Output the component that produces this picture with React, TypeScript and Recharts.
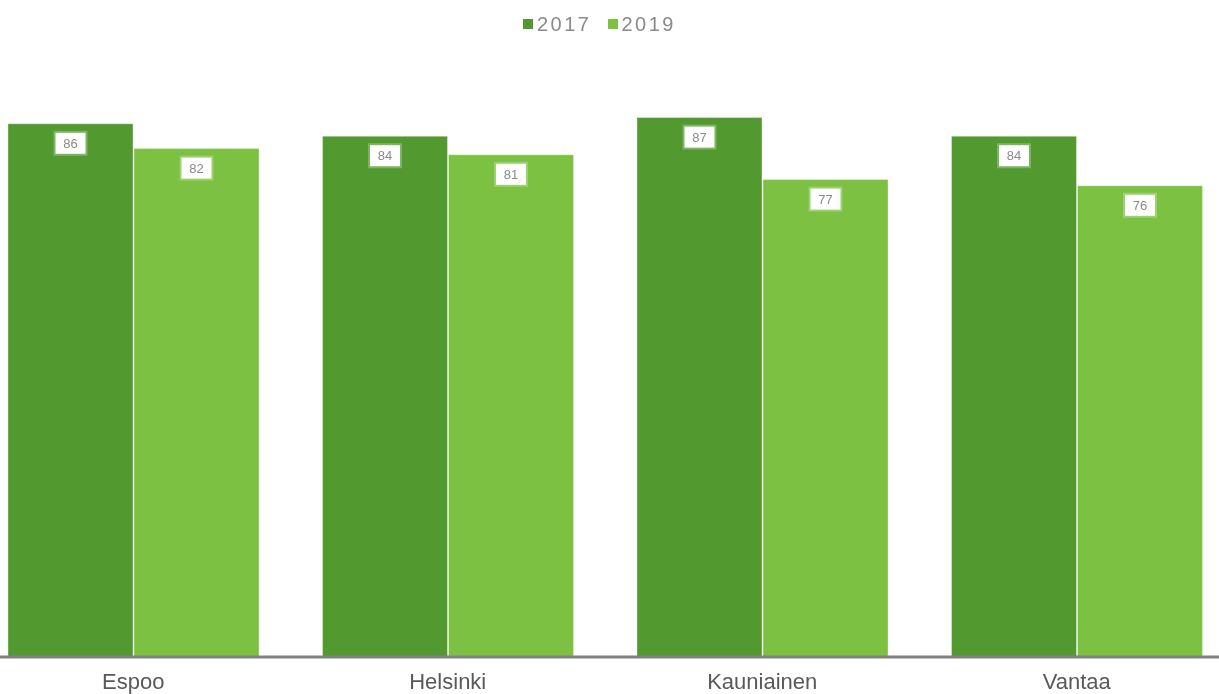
import React from "react";
import { BarChart, Bar, XAxis, YAxis, LabelList } from "recharts";

const categories = ["Espoo", "Helsinki", "Kauniainen", "Vantaa"];
const values2017 = [86, 84, 87, 84];
const values2019 = [82, 81, 77, 76];
const seriesNames = ["2017", "2019"];
const colors = ["#529A2F", "#7CC142"];

const data = categories.map((c, i) => ({
  name: c,
  [seriesNames[0]]: values2017[i],
  [seriesNames[1]]: values2019[i],
}));

const FONT = "Liberation Sans, Arial, sans-serif";

const ValueLabel = (props: any) => {
  const { x, y, width, value } = props;
  const cx = x + width / 2;
  const bw = 30;
  const bh = 21;
  const top = y + 9;
  return (
    <g>
      <rect x={cx - bw / 2 - 2} y={top - 2} width={bw + 4} height={bh + 4} fill="#ffffff" fillOpacity={0.25} />
      <rect x={cx - bw / 2} y={top} width={bw} height={bh} fill="#ffffff" />
      <text
        x={cx}
        y={top + bh / 2 + 1}
        textAnchor="middle"
        dominantBaseline="middle"
        fontSize={13}
        fontFamily={FONT}
        fill="#8a8a8a"
      >
        {value}
      </text>
    </g>
  );
};

export default function App() {
  return (
    <div style={{ position: "fixed", left: 0, top: 0, width: 1219, height: 694, overflow: "hidden" }}>
      <div
        style={{
          position: "absolute",
          left: 0,
          top: 13,
          width: 1219,
          display: "flex",
          justifyContent: "center",
          fontFamily: FONT,
          paddingRight: 20,
          boxSizing: "border-box",
        }}
      >
        {seriesNames.map((s, i) => (
          <div key={s} style={{ display: "flex", alignItems: "center", marginRight: i === 0 ? 16 : 0 }}>
            <span style={{ display: "inline-block", width: 10, height: 10, background: colors[i], marginRight: 4 }} />
            <span style={{ fontSize: 20, lineHeight: "22px", color: "#8a8a8a", letterSpacing: 2.5 }}>{s}</span>
          </div>
        ))}
      </div>
      <div style={{ position: "absolute", left: -24, top: 0 }}>
        <BarChart
          width={1258}
          height={700}
          data={data}
          margin={{ top: 37, right: 0, bottom: 0, left: 0 }}
          barGap={1}
          barCategoryGap={32}
        >
          <XAxis
            dataKey="name"
            axisLine={{ stroke: "#808080", strokeWidth: 3 }}
            tickLine={false}
            height={43}
            tick={{ fontSize: 22, fill: "#595959", fontFamily: FONT }}
            tickMargin={10}
            interval={0}
          />
          <YAxis hide domain={[0, 100]} />
          {seriesNames.map((s, i) => (
            <Bar
              key={s}
              dataKey={s}
              fill={colors[i]}
              stroke="#ffffff"
              strokeOpacity={0.35}
              strokeWidth={1}
              isAnimationActive={false}
            >
              <LabelList dataKey={s} content={<ValueLabel />} />
            </Bar>
          ))}
        </BarChart>
      </div>
    </div>
  );
}
